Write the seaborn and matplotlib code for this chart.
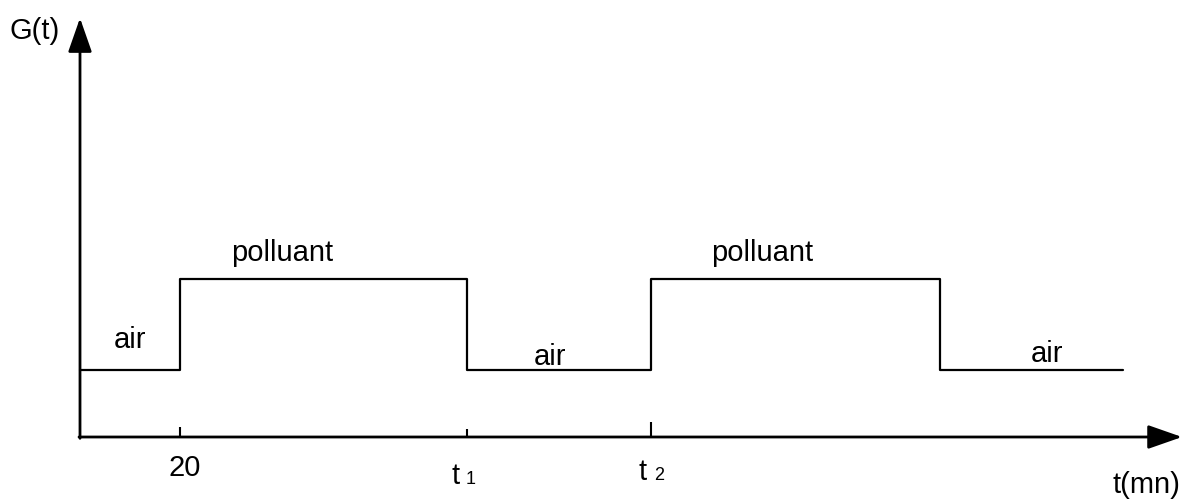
import matplotlib
matplotlib.use("Agg")
import matplotlib.pyplot as plt
import seaborn as sns
import pandas as pd

# step signal G(t): air / polluant / air / polluant / air
t_points = [0, 20, 77.4, 114.2, 172, 208.6]
g_points = [1, 2.35, 1, 2.35, 1, 1]

phase_labels = ["air", "polluant", "air", "polluant", "air"]
phase_x = [10, 40.4, 94, 136.4, 193.4]
phase_y = [1.45, 2.75, 1.19, 2.75, 1.24]

tick_pos = [20, 77.4, 114.2]
tick_len = [0.15, 0.12, 0.22]

sns.set_theme(style="white")
plt.rcParams["font.family"] = ["Liberation Sans", "DejaVu Sans"]
plt.rcParams["text.color"] = "black"

fig = plt.figure(figsize=(11.83, 4.99), dpi=100)
ax = fig.add_axes([0, 0, 1, 1])

df = pd.DataFrame({"t": t_points, "G": g_points})
sns.lineplot(data=df, x="t", y="G", ax=ax, drawstyle="steps-post",
             color="black", linewidth=1.6, sort=False, estimator=None)

# axes with arrows
arrow = dict(arrowstyle="-|>,head_length=1.0,head_width=0.35", color="black",
             lw=2, mutation_scale=21, shrinkA=0, shrinkB=0)
ax.annotate("", xy=(220.4, 0), xytext=(-0.2, 0), arrowprops=arrow)
ax.annotate("", xy=(0, 6.25), xytext=(0, -0.02), arrowprops=arrow)

# small tick marks
for x, h in zip(tick_pos, tick_len):
    ax.vlines(x, 0, h, color="black", linewidth=1.5)

for lab, x, y in zip(phase_labels, phase_x, phase_y):
    ax.text(x, y, lab, fontsize=21, ha="center", va="center", color="black")

ax.text(21, -0.46, "20", fontsize=21, ha="center", va="center", color="black")
ax.text(75.2, -0.70, "t", fontsize=21, ha="center", va="baseline", color="black")
ax.text(78.2, -0.70, "1", fontsize=13, ha="center", va="baseline", color="black")
ax.text(112.6, -0.64, "t", fontsize=21, ha="center", va="baseline", color="black")
ax.text(115.8, -0.64, "2", fontsize=13, ha="center", va="baseline", color="black")
ax.text(-9, 6.06, "G(t)", fontsize=21, ha="center", va="center", color="black")
ax.text(213.2, -0.72, "t(mn)", fontsize=21, ha="center", va="center", color="black")

ax.set_xlim(-16, 220.6)
ax.set_ylim(-0.925, 6.52)
ax.set_axis_off()

fig.savefig("out.png", dpi=100, facecolor="white")
